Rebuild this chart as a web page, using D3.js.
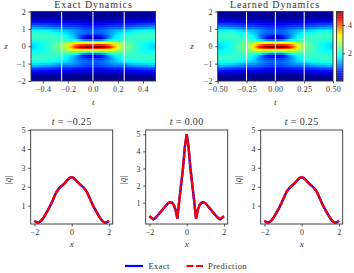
<!DOCTYPE html>
<html>
<head>
<meta charset="utf-8">
<script src="https://cdn.jsdelivr.net/npm/d3@7"></script>
<style>
    html, body { margin: 0; padding: 0; background: #fff; }
    svg { display: block; }
    text { font-family: "Liberation Serif", serif; fill: #333; }
    .axis path, .axis line { stroke: #222; stroke-width: 0.8; }
    .frame { fill: none; stroke: #333; stroke-width: 0.9; }
</style>
</head>
<body>
<svg id="chart" width="354" height="273">
    <defs>
        <filter id="soften" x="-5%" y="-5%" width="110%" height="110%" color-interpolation-filters="sRGB">
            <feGaussianBlur stdDeviation="1.1 0.45"></feGaussianBlur>
        </filter>
    </defs>
</svg>
<script>
// |q|, one row per t = 0, 0.025 ... 0.5, one column per |z| = 0, 0.1 ... 2
const tHalf = d3.range(21).map(i => i * 0.025);
const zHalf = d3.range(21).map(i => i * 0.1);
const qGrid = [
    [5.00, 4.25, 3.00, 2.05, 1.10, 0.05, 0.60, 0.88, 1.00, 1.02, 0.97, 0.85, 0.72, 0.58, 0.45, 0.32, 0.20, 0.09, 0.03, 0.12, 0.20],
    [4.98, 4.25, 3.05, 2.08, 1.12, 0.15, 0.60, 0.88, 1.00, 1.02, 0.97, 0.86, 0.73, 0.59, 0.45, 0.32, 0.20, 0.10, 0.05, 0.12, 0.20],
    [4.90, 4.25, 3.15, 2.15, 1.15, 0.35, 0.65, 0.90, 1.02, 1.05, 1.00, 0.88, 0.74, 0.60, 0.46, 0.33, 0.21, 0.11, 0.06, 0.12, 0.20],
    [4.78, 4.20, 3.22, 2.22, 1.30, 0.60, 0.75, 0.96, 1.06, 1.08, 1.03, 0.91, 0.77, 0.62, 0.47, 0.33, 0.22, 0.12, 0.07, 0.13, 0.20],
    [4.60, 4.10, 3.25, 2.30, 1.50, 0.90, 0.92, 1.06, 1.14, 1.15, 1.08, 0.96, 0.80, 0.64, 0.48, 0.34, 0.22, 0.13, 0.08, 0.13, 0.20],
    [4.40, 3.95, 3.22, 2.35, 1.70, 1.22, 1.15, 1.20, 1.25, 1.23, 1.14, 1.00, 0.83, 0.66, 0.49, 0.35, 0.23, 0.13, 0.08, 0.13, 0.20],
    [4.10, 3.70, 3.10, 2.38, 1.85, 1.50, 1.40, 1.35, 1.36, 1.32, 1.21, 1.05, 0.86, 0.68, 0.50, 0.35, 0.23, 0.14, 0.09, 0.13, 0.20],
    [3.60, 3.35, 2.90, 2.38, 1.95, 1.70, 1.60, 1.52, 1.48, 1.41, 1.27, 1.08, 0.88, 0.70, 0.52, 0.36, 0.24, 0.14, 0.09, 0.13, 0.20],
    [3.10, 3.00, 2.70, 2.35, 2.05, 1.85, 1.76, 1.66, 1.60, 1.48, 1.31, 1.10, 0.89, 0.71, 0.53, 0.37, 0.24, 0.15, 0.10, 0.13, 0.20],
    [2.75, 2.70, 2.52, 2.30, 2.10, 1.98, 1.88, 1.78, 1.68, 1.52, 1.32, 1.10, 0.90, 0.72, 0.54, 0.38, 0.25, 0.15, 0.10, 0.13, 0.20],
    [2.50, 2.47, 2.38, 2.27, 2.17, 2.08, 2.00, 1.88, 1.75, 1.55, 1.32, 1.10, 0.90, 0.72, 0.55, 0.38, 0.25, 0.15, 0.10, 0.13, 0.20],
    [2.40, 2.38, 2.30, 2.22, 2.14, 2.08, 2.02, 1.93, 1.80, 1.60, 1.37, 1.14, 0.93, 0.74, 0.56, 0.39, 0.26, 0.16, 0.10, 0.13, 0.20],
    [2.30, 2.28, 2.22, 2.16, 2.11, 2.08, 2.04, 1.97, 1.84, 1.65, 1.42, 1.19, 0.97, 0.76, 0.57, 0.40, 0.26, 0.16, 0.11, 0.14, 0.20],
    [2.17, 2.16, 2.13, 2.09, 2.07, 2.07, 2.06, 2.00, 1.88, 1.70, 1.47, 1.23, 1.00, 0.79, 0.59, 0.41, 0.27, 0.17, 0.11, 0.14, 0.20],
    [2.05, 2.05, 2.03, 2.02, 2.03, 2.06, 2.07, 2.03, 1.92, 1.75, 1.52, 1.27, 1.03, 0.81, 0.61, 0.43, 0.28, 0.17, 0.11, 0.14, 0.20],
    [1.95, 1.95, 1.95, 1.96, 2.00, 2.05, 2.08, 2.05, 1.95, 1.78, 1.55, 1.30, 1.06, 0.83, 0.62, 0.44, 0.28, 0.17, 0.12, 0.14, 0.20],
    [1.85, 1.86, 1.88, 1.92, 1.98, 2.05, 2.09, 2.06, 1.97, 1.80, 1.58, 1.33, 1.08, 0.85, 0.64, 0.45, 0.29, 0.18, 0.12, 0.15, 0.20],
    [1.75, 1.77, 1.82, 1.89, 1.96, 2.05, 2.10, 2.07, 1.97, 1.81, 1.60, 1.36, 1.11, 0.87, 0.65, 0.46, 0.29, 0.18, 0.12, 0.15, 0.20],
    [1.68, 1.70, 1.76, 1.85, 1.95, 2.05, 2.10, 2.07, 1.97, 1.81, 1.61, 1.38, 1.13, 0.88, 0.66, 0.47, 0.30, 0.18, 0.12, 0.15, 0.20],
    [1.60, 1.63, 1.71, 1.82, 1.95, 2.05, 2.10, 2.06, 1.96, 1.81, 1.62, 1.39, 1.14, 0.89, 0.67, 0.47, 0.30, 0.18, 0.12, 0.15, 0.20],
    [1.55, 1.58, 1.68, 1.80, 1.95, 2.05, 2.10, 2.05, 1.95, 1.80, 1.62, 1.40, 1.15, 0.90, 0.68, 0.48, 0.30, 0.18, 0.12, 0.15, 0.20],
];

const sliceTimes = [-0.25, 0, 0.25];
const sliceTitles = ['\u22120.25', '0.00', '0.25'];
const zTicks = [-2, -1, 0, 1, 2];
const exactTicks = [-0.4, -0.2, 0, 0.2, 0.4];
const learnedTicks = [-0.5, -0.25, 0, 0.25, 0.5];
const colorTicks = [2, 4];
const sliceXTicks = [-2, 0, 2];
const sliceYTicks = [1, 2, 3, 4, 5];

const jetStops = [0, 0.11, 0.35, 0.65, 0.89, 1];
const jetColors = ['#00007f', '#0000ff', '#00ffff', '#ffff00', '#ff0000', '#7f0000'];
const jet = d3.scaleLinear().domain(jetStops).range(jetColors).clamp(true);
const qNorm = d3.scaleLinear().domain([0.05, 4.95]).range([0, 1]);

const signedZ = [...zHalf.slice(1).reverse().map(z => -z), ...zHalf];
const signedT = [...tHalf.slice(1).reverse().map(t => -t), ...tHalf];
const zIndex = z => Math.round(Math.abs(z) / 0.1);
const tIndex = t => Math.round(Math.abs(t) / 0.025);
const minus = s => s.replace('-', '\u2212');

const svg = d3.select('#chart');

function mathLabel(g, x, y, str, size = 9) {
    return g.append('text')
        .attr('x', x)
        .attr('y', y)
        .attr('text-anchor', 'middle')
        .attr('font-size', size)
        .attr('font-style', 'italic')
        .text(str);
}

function styleTicks(sel, size = 8) {
    sel.attr('class', 'axis');
    sel.select('.domain').remove();
    sel.selectAll('text')
        .attr('font-size', size)
        .attr('font-family', null)
        .attr('letter-spacing', 0.25);
}

function drawHeatmap(opts) {
    const xScale = d3.scaleLinear().domain(opts.tDomain).range(opts.xRange);
    const yScale = d3.scaleLinear().domain([-2, 2]).range([81, 11.5]);
    const g = svg.append('g');

    const clipId = 'clip-' + opts.id;
    svg.append('clipPath').attr('id', clipId).append('rect')
        .attr('x', opts.xRange[0])
        .attr('y', 11.5)
        .attr('width', opts.xRange[1] - opts.xRange[0])
        .attr('height', 69.5);

    // outer cells run past the frame so the blur does not fade at the clip
    const bleed = 4;
    const cells = signedT.flatMap(t => signedZ.map(z => ({ t, z })));
    g.append('g')
        .attr('clip-path', `url(#${clipId})`)
        .append('g')
        .attr('filter', 'url(#soften)')
        .attr('shape-rendering', 'crispEdges')
        .selectAll('rect')
        .data(cells)
        .join('rect')
        .attr('x', d => xScale(d.t - 0.0125) - (d.t === -0.5 ? bleed : 0))
        .attr('y', d => yScale(d.z + 0.05) - (d.z === 2 ? bleed : 0))
        .attr('width', d => xScale(0.0125) - xScale(-0.0125) + 0.5 + (Math.abs(d.t) === 0.5 ? bleed : 0))
        .attr('height', d => yScale(-0.05) - yScale(0.05) + 0.5 + (Math.abs(d.z) === 2 ? bleed : 0))
        .attr('fill', d => jet(qNorm(qGrid[tIndex(d.t)][zIndex(d.z)])));

    g.selectAll('.cut')
        .data(sliceTimes)
        .join('line')
        .attr('class', 'cut')
        .attr('x1', d => xScale(d))
        .attr('x2', d => xScale(d))
        .attr('y1', 11.5)
        .attr('y2', 81)
        .attr('stroke', '#fff')
        .attr('stroke-width', 1);

    g.append('rect')
        .attr('class', 'frame')
        .attr('x', opts.xRange[0])
        .attr('y', 11.5)
        .attr('width', opts.xRange[1] - opts.xRange[0])
        .attr('height', 69.5);

    g.append('g')
        .attr('transform', 'translate(0, 81)')
        .call(d3.axisBottom(xScale)
            .tickValues(opts.ticks)
            .tickSize(2.5)
            .tickPadding(3)
            .tickFormat(d => minus(d3.format(opts.format)(d))))
        .call(styleTicks);

    g.append('g')
        .attr('transform', `translate(${opts.xRange[0]}, 0)`)
        .call(d3.axisLeft(yScale)
            .tickValues(zTicks)
            .tickSize(2.5)
            .tickPadding(2.5)
            .tickFormat(d => minus(d3.format('d')(d))))
        .call(styleTicks);

    g.append('text')
        .attr('x', opts.titleX)
        .attr('y', 8)
        .attr('text-anchor', 'middle')
        .attr('font-size', 10)
        .attr('letter-spacing', 0.9)
        .text(opts.title);

    mathLabel(g, (opts.xRange[0] + opts.xRange[1]) / 2, 105, 't');
    mathLabel(g, opts.zLabelX, 49, 'z');
}

function drawColorbar() {
    const colorScale = d3.scaleLinear().domain([0.05, 4.95]).range([81, 11.5]);
    const g = svg.append('g');
    g.selectAll('rect')
        .data(d3.range(0.05, 4.95, 0.05))
        .join('rect')
        .attr('x', 336.5)
        .attr('y', d => colorScale(d + 0.05))
        .attr('width', 6.5)
        .attr('height', colorScale(0) - colorScale(0.06))
        .attr('fill', d => jet(qNorm(d)));
    g.append('rect')
        .attr('class', 'frame')
        .attr('x', 336.5)
        .attr('y', 11.5)
        .attr('width', 6.5)
        .attr('height', 69.5);
    g.append('g')
        .attr('transform', 'translate(343, 0)')
        .call(d3.axisRight(colorScale)
            .tickValues(colorTicks)
            .tickSize(2)
            .tickPadding(3)
            .tickFormat(d3.format('d')))
        .call(styleTicks);
}

function drawSlice(index, left, yDomain) {
    const right = left + 82;
    const top = 130;
    const bottom = 224;
    const xScale = d3.scaleLinear().domain([-2.2, 2.2]).range([left, right]);
    const yScale = d3.scaleLinear().domain(yDomain).range([bottom, top]);
    const g = svg.append('g');

    const profile = qGrid[tIndex(sliceTimes[index])];
    const line = d3.line()
        .x(z => xScale(z))
        .y(z => yScale(profile[zIndex(z)]));

    g.append('path')
        .attr('d', line(signedZ))
        .attr('fill', 'none')
        .attr('stroke', '#0000ff')
        .attr('stroke-width', 2.4);
    g.append('path')
        .attr('d', line(signedZ))
        .attr('fill', 'none')
        .attr('stroke', '#ff0000')
        .attr('stroke-width', 2.4)
        .attr('stroke-dasharray', '5.5 0.9');

    g.append('rect')
        .attr('class', 'frame')
        .attr('x', left)
        .attr('y', top)
        .attr('width', right - left)
        .attr('height', bottom - top);

    g.append('g')
        .attr('transform', `translate(0, ${bottom})`)
        .call(d3.axisBottom(xScale)
            .tickValues(sliceXTicks)
            .tickSize(2.5)
            .tickPadding(2.5)
            .tickFormat(d => minus(d3.format('d')(d))))
        .call(styleTicks);

    g.append('g')
        .attr('transform', `translate(${left}, 0)`)
        .call(d3.axisLeft(yScale)
            .tickValues(sliceYTicks)
            .tickSize(2.5)
            .tickPadding(2.5)
            .tickFormat(d3.format('d')))
        .call(styleTicks);

    const title = g.append('text')
        .attr('x', (left + right) / 2)
        .attr('y', 125)
        .attr('text-anchor', 'middle')
        .attr('font-size', 10)
        .attr('letter-spacing', 0.35);
    title.append('tspan').attr('font-style', 'italic').text('t');
    title.append('tspan').text(' = ' + sliceTitles[index]);

    mathLabel(g, (left + right) / 2, 247, 'x');
    mathLabel(g, 0, 0, '|q\u0304|', 9)
        .attr('transform', `translate(${left - 20}, 180) rotate(-90)`);
}

function drawLegend() {
    const g = svg.append('g');
    g.append('line')
        .attr('x1', 125).attr('x2', 143)
        .attr('y1', 266).attr('y2', 266)
        .attr('stroke', '#0000ff')
        .attr('stroke-width', 2.2);
    g.append('text')
        .attr('x', 148.5)
        .attr('y', 268.5)
        .attr('font-size', 8.5)
        .attr('letter-spacing', 0.4)
        .text('Exact');
    g.append('line')
        .attr('x1', 186.5).attr('x2', 203)
        .attr('y1', 266).attr('y2', 266)
        .attr('stroke', '#ff0000')
        .attr('stroke-width', 2.2)
        .attr('stroke-dasharray', '7 2.5');
    g.append('text')
        .attr('x', 208)
        .attr('y', 268.5)
        .attr('font-size', 8.5)
        .attr('letter-spacing', 0.4)
        .text('Prediction');
}

drawHeatmap({
    id: 'exact',
    title: 'Exact Dynamics',
    tDomain: [-0.495, 0.5],
    xRange: [31, 155.5],
    ticks: exactTicks,
    format: '.1f',
    titleX: 93.5,
    zLabelX: 6,
});
drawHeatmap({
    id: 'learned',
    title: 'Learned Dynamics',
    tDomain: [-0.5, 0.5],
    xRange: [217.7, 333],
    ticks: learnedTicks,
    format: '.2f',
    titleX: 275,
    zLabelX: 192,
});
drawColorbar();
drawSlice(0, 30.7, [0.03, 5]);
drawSlice(1, 145.7, [-0.25, 5.25]);
drawSlice(2, 260.7, [0.03, 5]);
drawLegend();
</script>
</body>
</html>
